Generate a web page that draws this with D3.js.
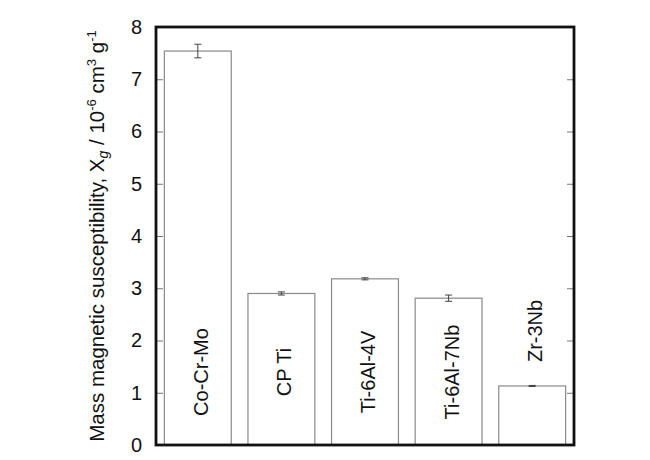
<!DOCTYPE html>
<html>
<head>
<meta charset="utf-8">
<script src="https://cdn.jsdelivr.net/npm/d3@7"></script>
<style>
  html, body { margin: 0; padding: 0; background: #fff; }
  text { font-family: "Liberation Sans", Arial, Helvetica, sans-serif; fill: #111; }
</style>
</head>
<body>
<svg id="chart" width="650" height="460"></svg>
<script>
const categories = ["Co-Cr-Mo", "CP Ti", "Ti-6Al-4V", "Ti-6Al-7Nb", "Zr-3Nb"];
const values = [7.54, 2.90, 3.18, 2.81, 1.13];
const errors = [0.13, 0.03, 0.02, 0.06, 0.01];
const yTicks = [0, 1, 2, 3, 4, 5, 6, 7, 8];

const W = 650, H = 460;
const m = { left: 156, right: 76, top: 27, bottom: 15 };
const iw = W - m.left - m.right, ih = H - m.top - m.bottom;

const svg = d3.select("#chart");
const g = svg.append("g").attr("transform", `translate(${m.left},${m.top})`);

const x = d3.scaleBand().domain(categories).range([0, iw]).paddingInner(0.2).paddingOuter(0.1);
const y = d3.scaleLinear().domain([0, 8]).range([ih, 0]);

// bars
g.selectAll("rect.bar").data(categories).join("rect")
  .attr("class", "bar")
  .attr("x", d => x(d))
  .attr("y", (d, i) => y(values[i]))
  .attr("width", x.bandwidth())
  .attr("height", (d, i) => y(0) - y(values[i]))
  .attr("fill", "#fff")
  .attr("stroke", "#8a8a8a")
  .attr("stroke-width", 1.2);

// error bars
const eb = g.selectAll("g.err").data(categories).join("g").attr("class", "err")
  .attr("transform", d => `translate(${x(d) + x.bandwidth() / 2},0)`);
eb.append("line")
  .attr("y1", (d, i) => y(values[i] + errors[i]))
  .attr("y2", (d, i) => y(values[i] - errors[i]))
  .attr("stroke", "#444").attr("stroke-width", 1);
eb.append("line").attr("x1", -3.5).attr("x2", 3.5)
  .attr("y1", (d, i) => y(values[i] + errors[i])).attr("y2", (d, i) => y(values[i] + errors[i]))
  .attr("stroke", "#444").attr("stroke-width", 1);
eb.append("line").attr("x1", -3.5).attr("x2", 3.5)
  .attr("y1", (d, i) => y(values[i] - errors[i])).attr("y2", (d, i) => y(values[i] - errors[i]))
  .attr("stroke", "#444").attr("stroke-width", 1);

// bar labels (rotated): inside the bar near its base, or above a short bar
const inside = y(0) - 73;
g.selectAll("text.lab").data(categories).join("text")
  .attr("class", "lab")
  .attr("transform", (d, i) => {
    const cx = x(d) + x.bandwidth() / 2 + 3;
    const top = y(values[i]);
    const cy = top < inside - 55 ? inside : top - 55;
    return `translate(${cx},${cy}) rotate(-90)`;
  })
  .attr("text-anchor", "middle")
  .attr("dominant-baseline", "central")
  .attr("font-size", 20)
  .text(d => d);

// left axis (ticks inside)
const yAxisL = d3.axisLeft(y).tickValues(yTicks).tickSize(-7).tickPadding(14).tickFormat(d3.format("d"));
const gl = g.append("g").call(yAxisL);
gl.select(".domain").remove();
gl.selectAll(".tick line").attr("stroke", "#777");
gl.selectAll(".tick text").attr("font-size", 20).attr("fill", "#111")
  .attr("font-family", '"Liberation Sans", Arial, sans-serif');

// right axis ticks (inside, no labels)
const yAxisR = d3.axisRight(y).tickValues(yTicks).tickSize(-7).tickFormat("");
const gr = g.append("g").attr("transform", `translate(${iw},0)`).call(yAxisR);
gr.select(".domain").remove();
gr.selectAll(".tick line").attr("stroke", "#777");

// frame
g.append("rect").attr("x", 0).attr("y", 0).attr("width", iw).attr("height", ih)
  .attr("fill", "none").attr("stroke", "#111").attr("stroke-width", 2.8);

// y axis title
const title = svg.append("text")
  .attr("transform", `translate(104,${m.top + ih / 2}) rotate(-90)`)
  .attr("text-anchor", "middle")
  .attr("font-size", 20.5);
title.append("tspan").text("Mass magnetic susceptibility, ");
title.append("tspan").text("X");
title.append("tspan").attr("font-size", 14).attr("font-style", "italic").attr("dy", 4).text("g");
title.append("tspan").attr("dy", -4).text(" / 10");
title.append("tspan").attr("font-size", 13).attr("dy", -8).text("-6");
title.append("tspan").attr("dy", 8).text(" cm");
title.append("tspan").attr("font-size", 13).attr("dy", -8).text("3");
title.append("tspan").attr("dy", 8).text(" g");
title.append("tspan").attr("font-size", 13).attr("dy", -8).text("-1");
</script>
</body>
</html>
